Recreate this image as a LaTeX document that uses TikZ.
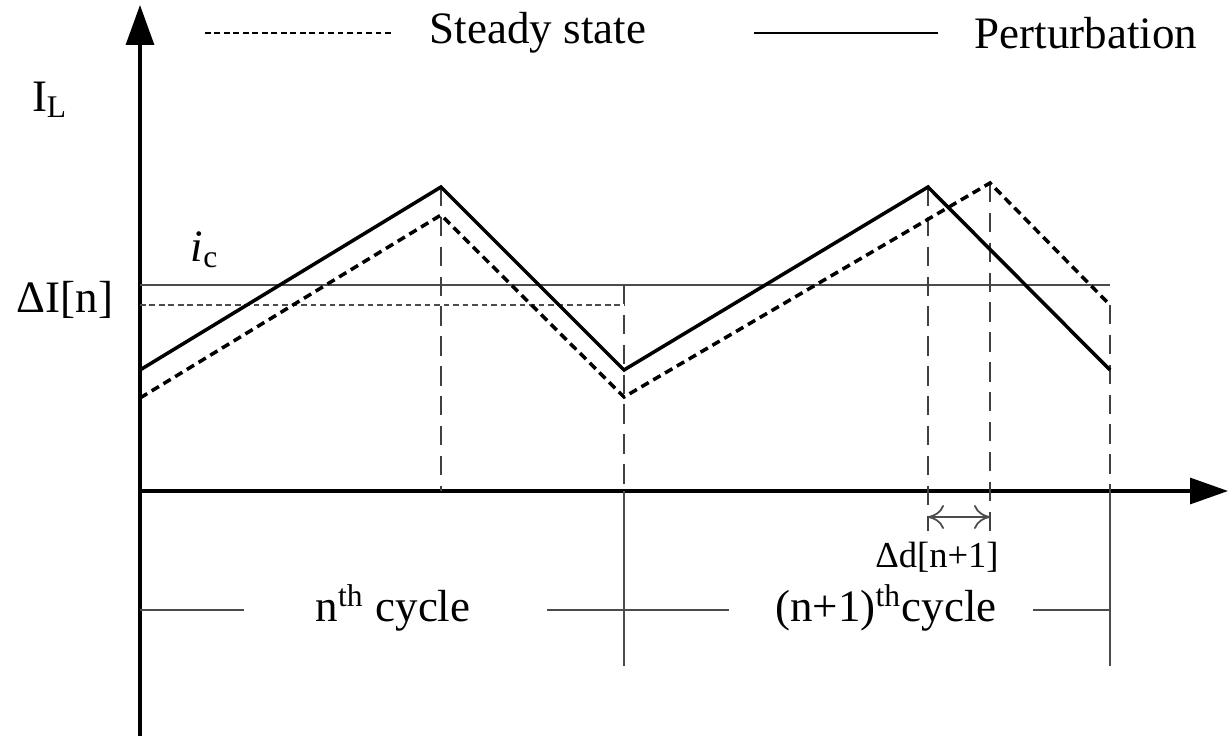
\documentclass[tikz,border=0pt]{standalone}
\usepackage{fontspec}
\setmainfont{Liberation Serif}
\usetikzlibrary{arrows.meta}

\tikzset{
  wave/.style={line width=1pt, line join=miter},
  steady/.style={wave, dash pattern=on 2.4pt off 1.5pt},
  guide/.style={black!75, line width=0.6pt, dash pattern=on 5.5pt off 3pt},
  thinline/.style={black!70, line width=0.5pt},
  lbl/.style={font=\fontsize{12.8}{15}\selectfont, inner sep=0pt},
  smalllbl/.style={font=\fontsize{10.4}{12}\selectfont, inner sep=0pt}
}

\begin{document}
\begin{tikzpicture}[scale=1]
    \useasboundingbox (-1.40, -2.45) rectangle (10.90, 4.91);

    % axes
    \draw[line width=0.9pt, -{Triangle[length=4mm, width=2.8mm]}] (0, -2.45) -- (0, 4.86);
    \draw[line width=0.9pt, -{Triangle[length=3.8mm, width=2.6mm]}] (0, 0) -- (10.88, 0);
    \node[lbl] (yl) at (-0.90, 3.91) {I\textsubscript{L}};

    % legend
    \draw[steady, line width=0.7pt, dash pattern=on 1.6pt off 1.1pt] (0.65, 4.58) -- (2.52, 4.58);
    \node[lbl] (lgs) at (3.98, 4.58) {Steady state};
    \draw[line width=0.7pt] (6.14, 4.58) -- (7.98, 4.58);
    \node[lbl] (lgp) at (9.46, 4.58) {Perturbation};

    % reference levels
    \draw[thinline] (0, 2.06) -- (9.70, 2.06);
    \node[lbl] (ic) at (0.65, 2.41) {\textit{i}\textsubscript{c}};
    \draw[thinline, dash pattern=on 1.6pt off 1.1pt] (0, 1.86) -- (4.84, 1.86);
    \node[lbl] (dI) at (-0.75, 1.91) {ΔI[n]};

    % guides
    \draw[guide] (3.01, 3.04) -- (3.01, 0);
    \draw[guide] (4.84, 2.06) -- (4.84, 0);
    \draw[guide] (7.88, 3.04) -- (7.88, -0.40);
    \draw[guide] (8.50, 3.08) -- (8.50, -0.40);
    \draw[guide] (9.70, 1.86) -- (9.70, 0);
    \draw[thinline] (4.84, 0) -- (4.84, -1.75);
    \draw[thinline] (9.70, 0) -- (9.70, -1.75);

    % steady state and perturbation
    \draw[steady] (0, 0.93) -- (3.01, 2.76) -- (4.84, 0.94) -- (8.50, 3.08) -- (9.70, 1.86);
    \draw[wave] (0, 1.21) -- (3.01, 3.04) -- (4.84, 1.21) -- (7.88, 3.04) -- (9.70, 1.21);

    % duty change
    \draw[thinline, {To[length=1.6mm, width=2.4mm]}-{To[length=1.6mm, width=2.4mm]}] (7.88, -0.26) -- (8.50, -0.26);
    \node[smalllbl] (dd) at (7.97, -0.66) {Δd[n+1]};

    % cycles
    \draw[thinline] (0, -1.19) -- (1.04, -1.19);
    \draw[thinline] (4.07, -1.19) -- (5.89, -1.19);
    \draw[thinline] (8.93, -1.19) -- (9.70, -1.19);
    \node[lbl] (c1) at (2.53, -1.17) {n\textsuperscript{th} cycle};
    \node[lbl] (c2) at (7.46, -1.17) {(n+1)\textsuperscript{th}cycle};
\end{tikzpicture}
\end{document}
